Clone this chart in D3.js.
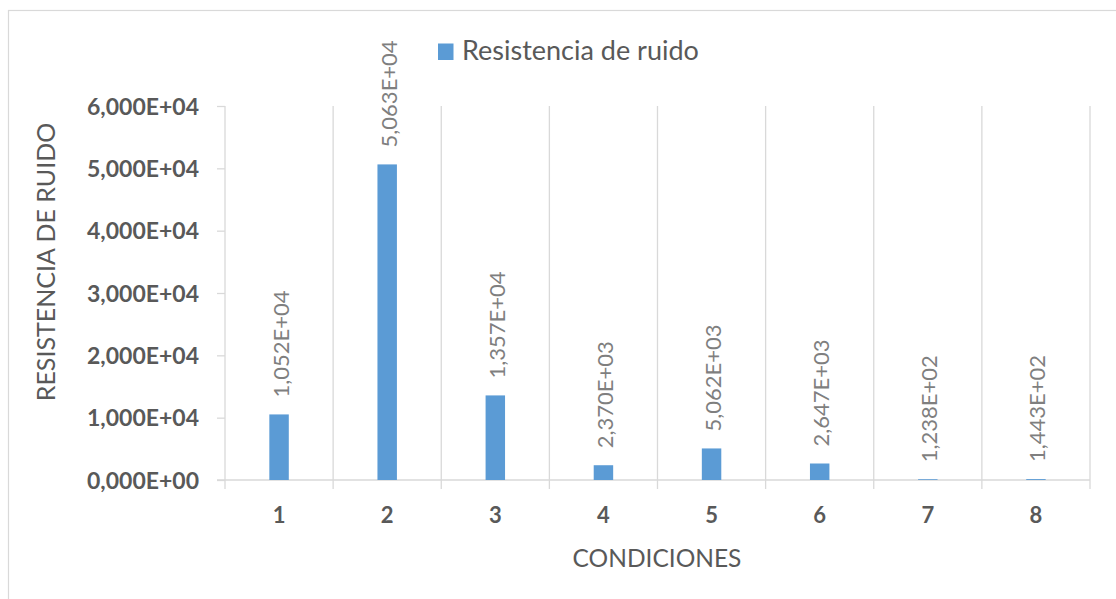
<!DOCTYPE html>
<html>
<head>
<meta charset="utf-8">
<script src="https://cdn.jsdelivr.net/npm/d3@7/dist/d3.min.js"></script>
<style>
  html, body { margin: 0; padding: 0; background: #fff; }
  svg { display: block; font-family: Lato, "Open Sans", sans-serif; }
</style>
</head>
<body>
<svg id="chart" width="1116" height="599"></svg>
<script>
// Condiciones del ensayo y resistencia de ruido medida en cada una
const categories = ["1", "2", "3", "4", "5", "6", "7", "8"];
const values = [10520, 50630, 13570, 2370, 5062, 2647, 123.8, 144.3];
const yTicks = [0, 10000, 20000, 30000, 40000, 50000, 60000];
const seriesName = "Resistencia de ruido";
const xTitle = "CONDICIONES";
const yTitle = "RESISTENCIA DE RUIDO";

const W = 1116, H = 599;
const plot = { left: 225, right: 1090, top: 106, bottom: 480 };
const barColor = "#5B9BD5";
const gridColor = "#D9D9D9";
const axisText = "#595959";
const labelText = "#7F7F7F";

// Notación científica con coma decimal: 1,052E+04
function sci(v) {
  const [m, e] = v.toExponential(3).split("e");
  const sign = e[0] === "-" ? "-" : "+";
  const ex = e.replace(/[+-]/, "").padStart(2, "0");
  return m.replace(".", ",") + "E" + sign + ex;
}

const svg = d3.select("#chart");

// Marco exterior del gráfico
svg.append("rect")
  .attr("x", 8.5).attr("y", 10.5)
  .attr("width", W + 10).attr("height", H + 10)
  .attr("fill", "none").attr("stroke", gridColor).attr("stroke-width", 1.2);

const x = d3.scaleBand().domain(categories).range([plot.left, plot.right]).padding(0);
const y = d3.scaleLinear().domain([0, 60000]).range([plot.bottom, plot.top]);

// Líneas verticales de división entre categorías
const bounds = categories.map(c => x(c)).concat([plot.right]);
svg.append("g").selectAll("line").data(bounds).join("line")
  .attr("x1", d => d).attr("x2", d => d)
  .attr("y1", plot.top).attr("y2", plot.bottom + 9)
  .attr("stroke", gridColor).attr("stroke-width", 1.3);

// Eje Y
const yAxis = svg.append("g")
  .attr("transform", `translate(${plot.left},0)`)
  .call(d3.axisLeft(y).tickValues(yTicks).tickFormat(sci).tickSize(8).tickPadding(18));
yAxis.select(".domain").remove();
yAxis.selectAll(".tick line").attr("stroke", gridColor).attr("stroke-width", 1.3);
yAxis.selectAll(".tick text")
  .attr("fill", axisText).attr("font-size", 23).attr("font-weight", 700)
  .attr("font-family", "Lato, sans-serif")
  .attr("dy", "0.36em");

// Eje X
svg.append("line")
  .attr("x1", plot.left - 8).attr("x2", plot.right)
  .attr("y1", plot.bottom).attr("y2", plot.bottom)
  .attr("stroke", gridColor).attr("stroke-width", 1.5);

svg.append("g").selectAll("text").data(categories).join("text")
  .attr("x", d => x(d) + x.bandwidth() / 2)
  .attr("y", 523)
  .attr("text-anchor", "middle")
  .attr("fill", axisText).attr("font-size", 22).attr("font-weight", 700)
  .text(d => d);

// Barras
const barW = x.bandwidth() * 0.18;
const data = categories.map((c, i) => ({ c, v: values[i] }));
svg.append("g").selectAll("rect").data(data).join("rect")
  .attr("x", d => x(d.c) + x.bandwidth() / 2 - barW / 2)
  .attr("y", d => y(d.v))
  .attr("width", barW)
  .attr("height", d => plot.bottom - y(d.v))
  .attr("fill", barColor);

// Etiquetas de valor, giradas
svg.append("g").selectAll("text").data(data).join("text")
  .attr("transform", d => `translate(${x(d.c) + x.bandwidth() / 2 + 1},${y(d.v) - 17}) rotate(-90)`)
  .attr("text-anchor", "start")
  .attr("dominant-baseline", "central")
  .attr("fill", labelText).attr("font-size", 22)
  .text(d => sci(d.v));

// Títulos de los ejes
svg.append("text")
  .attr("x", 657).attr("y", 567)
  .attr("text-anchor", "middle")
  .attr("fill", axisText).attr("font-size", 24.5)
  .text(xTitle);

svg.append("text")
  .attr("transform", "translate(45,262) rotate(-90)")
  .attr("text-anchor", "middle")
  .attr("dominant-baseline", "central")
  .attr("fill", axisText).attr("font-size", 25)
  .text(yTitle);

// Leyenda
const legend = svg.append("g");
legend.append("rect")
  .attr("x", 438).attr("y", 43.5).attr("width", 15.5).attr("height", 16.5)
  .attr("fill", barColor);
legend.append("text")
  .attr("x", 462).attr("y", 60)
  .attr("fill", axisText).attr("font-size", 27)
  .text(seriesName);
</script>
</body>
</html>
